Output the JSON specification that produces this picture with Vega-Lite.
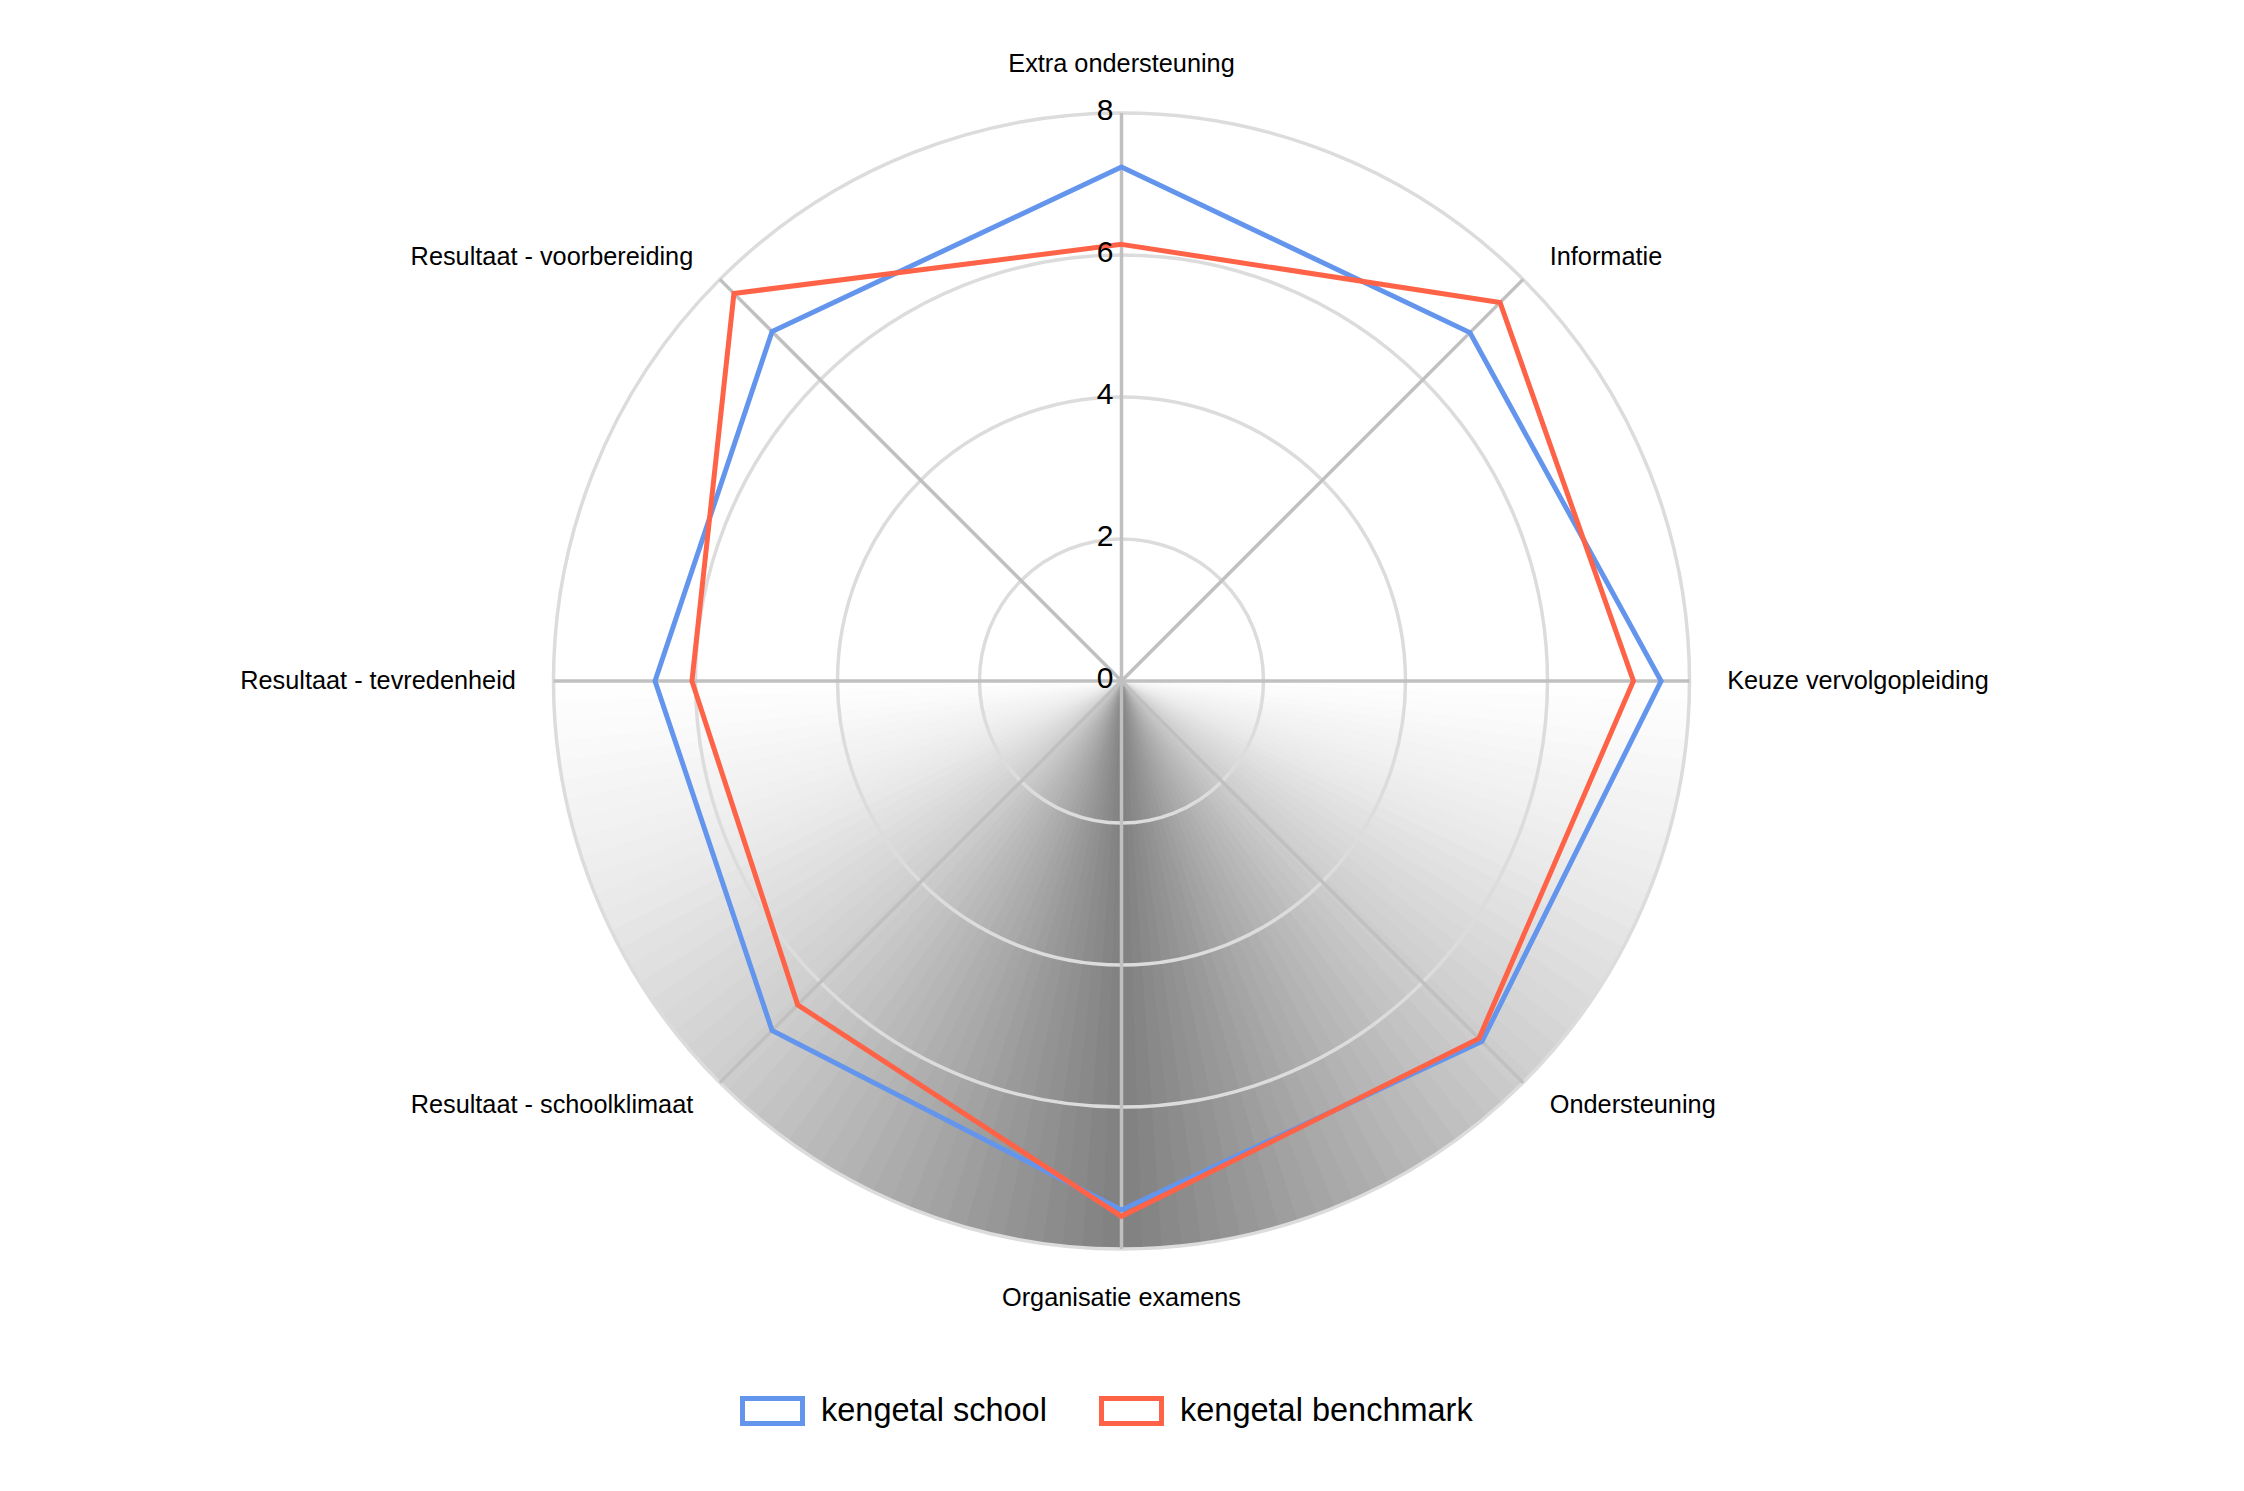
{
  "$schema": "https://vega.github.io/schema/vega-lite/v6.json",
  "width": 1136,
  "height": 1136,
  "autosize": {"type": "none"},
  "padding": {"left": 553.5, "top": 113, "right": 554.5, "bottom": 242},
  "background": "white",
  "config": {
    "view": {"stroke": null},
    "font": "Liberation Sans",
    "text": {"font": "Liberation Sans", "color": "black"}
  },
  "datasets": {
    "scores": [
      {"aspect": "Extra ondersteuning", "series": "kengetal school", "value": 7.24},
      {"aspect": "Informatie", "series": "kengetal school", "value": 6.94},
      {"aspect": "Keuze vervolgopleiding", "series": "kengetal school", "value": 7.6},
      {"aspect": "Ondersteuning", "series": "kengetal school", "value": 7.18},
      {"aspect": "Organisatie examens", "series": "kengetal school", "value": 7.45},
      {"aspect": "Resultaat - schoolklimaat", "series": "kengetal school", "value": 6.96},
      {"aspect": "Resultaat - tevredenheid", "series": "kengetal school", "value": 6.57},
      {"aspect": "Resultaat - voorbereiding", "series": "kengetal school", "value": 6.96},
      {"aspect": "Extra ondersteuning", "series": "kengetal benchmark", "value": 6.15},
      {"aspect": "Informatie", "series": "kengetal benchmark", "value": 7.54},
      {"aspect": "Keuze vervolgopleiding", "series": "kengetal benchmark", "value": 7.21},
      {"aspect": "Ondersteuning", "series": "kengetal benchmark", "value": 7.12},
      {"aspect": "Organisatie examens", "series": "kengetal benchmark", "value": 7.54},
      {"aspect": "Resultaat - schoolklimaat", "series": "kengetal benchmark", "value": 6.45},
      {"aspect": "Resultaat - tevredenheid", "series": "kengetal benchmark", "value": 6.05},
      {"aspect": "Resultaat - voorbereiding", "series": "kengetal benchmark", "value": 7.72}
    ],
    "aspects": [
      {"aspect": "Extra ondersteuning"},
      {"aspect": "Informatie"},
      {"aspect": "Keuze vervolgopleiding"},
      {"aspect": "Ondersteuning"},
      {"aspect": "Organisatie examens"},
      {"aspect": "Resultaat - schoolklimaat"},
      {"aspect": "Resultaat - tevredenheid"},
      {"aspect": "Resultaat - voorbereiding"}
    ],
    "rings": [{"tick": 0}, {"tick": 2}, {"tick": 4}, {"tick": 6}, {"tick": 8}],
    "shade": [
      {"wedge": 1}, {"wedge": 2}, {"wedge": 3}, {"wedge": 4}, {"wedge": 5}, {"wedge": 6}, {"wedge": 7}, {"wedge": 8}, {"wedge": 9}, {"wedge": 10},
      {"wedge": 11}, {"wedge": 12}, {"wedge": 13}, {"wedge": 14}, {"wedge": 15}, {"wedge": 16}, {"wedge": 17}, {"wedge": 18}, {"wedge": 19}, {"wedge": 20},
      {"wedge": 21}, {"wedge": 22}, {"wedge": 23}, {"wedge": 24}, {"wedge": 25}, {"wedge": 26}, {"wedge": 27}, {"wedge": 28}, {"wedge": 29}, {"wedge": 30},
      {"wedge": 31}, {"wedge": 32}, {"wedge": 33}, {"wedge": 34}, {"wedge": 35}, {"wedge": 36}, {"wedge": 37}, {"wedge": 38}, {"wedge": 39}, {"wedge": 40},
      {"wedge": 41}, {"wedge": 42}, {"wedge": 43}, {"wedge": 44}, {"wedge": 45}, {"wedge": 46}, {"wedge": 47}, {"wedge": 48}, {"wedge": 49}, {"wedge": 50},
      {"wedge": 51}, {"wedge": 52}, {"wedge": 53}, {"wedge": 54}, {"wedge": 55}, {"wedge": 56}, {"wedge": 57}, {"wedge": 58}, {"wedge": 59}, {"wedge": 60},
      {"wedge": 61}, {"wedge": 62}, {"wedge": 63}, {"wedge": 64}, {"wedge": 65}, {"wedge": 66}, {"wedge": 67}, {"wedge": 68}, {"wedge": 69}, {"wedge": 70},
      {"wedge": 71}, {"wedge": 72}, {"wedge": 73}, {"wedge": 74}, {"wedge": 75}, {"wedge": 76}, {"wedge": 77}, {"wedge": 78}, {"wedge": 79}, {"wedge": 80},
      {"wedge": 81}, {"wedge": 82}, {"wedge": 83}, {"wedge": 84}, {"wedge": 85}, {"wedge": 86}, {"wedge": 87}, {"wedge": 88}, {"wedge": 89}, {"wedge": 90}
    ]
  },
  "layer": [
    {
      "data": {"name": "shade"},
      "mark": {"type": "arc", "strokeWidth": 1.2},
      "encoding": {
        "theta": {"aggregate": "count", "type": "quantitative", "scale": {"range": [1.5708, 4.7124]}},
        "fill": {"field": "wedge", "type": "quantitative", "legend": null,
          "scale": {"type": "linear", "domain": [0.5, 11.75, 23, 34.25, 45.5, 56.75, 68, 79.25, 90.5],
            "range": ["#ffffff", "#ebebeb", "#cdcdcd", "#a8a8a8", "#808080", "#a8a8a8", "#cdcdcd", "#ebebeb", "#ffffff"]}},
        "stroke": {"field": "wedge", "type": "quantitative", "legend": null,
          "scale": {"type": "linear", "domain": [0.5, 11.75, 23, 34.25, 45.5, 56.75, 68, 79.25, 90.5],
            "range": ["#ffffff", "#ebebeb", "#cdcdcd", "#a8a8a8", "#808080", "#a8a8a8", "#cdcdcd", "#ebebeb", "#ffffff"]}}
      }
    },
    {
      "data": {"name": "rings"},
      "transform": [{"filter": "datum.tick > 0"}],
      "mark": {"type": "point", "shape": "circle", "filled": false, "color": "#dcdcdc", "strokeWidth": 3.5, "opacity": 1},
      "encoding": {
        "x": {"datum": 0, "type": "quantitative", "scale": {"domain": [-8, 8], "nice": false, "zero": false}, "axis": null},
        "y": {"datum": 0, "type": "quantitative", "scale": {"domain": [-8, 8], "nice": false, "zero": false}, "axis": null},
        "size": {"field": "tick", "type": "quantitative", "legend": null,
          "scale": {"type": "pow", "exponent": 2, "domain": [0, 8], "range": [0, 1290496], "zero": true, "nice": false}}
      }
    },
    {
      "data": {"name": "aspects"},
      "transform": [
        {"calculate": "indexof(['Extra ondersteuning','Informatie','Keuze vervolgopleiding','Ondersteuning','Organisatie examens','Resultaat - schoolklimaat','Resultaat - tevredenheid','Resultaat - voorbereiding'], datum.aspect) * PI / 4", "as": "ang"},
        {"calculate": "8 * sin(datum.ang)", "as": "sx"},
        {"calculate": "8 * cos(datum.ang)", "as": "sy"}
      ],
      "mark": {"type": "rule", "color": "#c0c0c0", "strokeWidth": 3.5},
      "encoding": {
        "x": {"field": "sx", "type": "quantitative", "scale": {"domain": [-8, 8], "nice": false, "zero": false}, "axis": null},
        "y": {"field": "sy", "type": "quantitative", "scale": {"domain": [-8, 8], "nice": false, "zero": false}, "axis": null},
        "x2": {"datum": 0},
        "y2": {"datum": 0}
      }
    },
    {
      "data": {"name": "scores"},
      "transform": [
        {"calculate": "indexof(['Extra ondersteuning','Informatie','Keuze vervolgopleiding','Ondersteuning','Organisatie examens','Resultaat - schoolklimaat','Resultaat - tevredenheid','Resultaat - voorbereiding'], datum.aspect)", "as": "idx"},
        {"calculate": "datum.value * sin(datum.idx * PI / 4)", "as": "px"},
        {"calculate": "datum.value * cos(datum.idx * PI / 4)", "as": "py"}
      ],
      "mark": {"type": "line", "interpolate": "linear-closed", "strokeWidth": 5, "strokeJoin": "miter"},
      "encoding": {
        "x": {"field": "px", "type": "quantitative", "scale": {"domain": [-8, 8], "nice": false, "zero": false}, "axis": null},
        "y": {"field": "py", "type": "quantitative", "scale": {"domain": [-8, 8], "nice": false, "zero": false}, "axis": null},
        "order": {"field": "idx", "type": "quantitative"},
        "color": {
          "field": "series", "type": "nominal",
          "scale": {"domain": ["kengetal school", "kengetal benchmark"], "range": ["#6495ED", "#FF6347"]},
          "legend": {
            "title": null,
            "orient": "none",
            "direction": "horizontal",
            "legendX": 186.5,
            "legendY": 1265,
            "padding": 0,
            "symbolType": "M-1,-0.4167H1V0.4167H-1Z",
            "symbolSize": 3600,
            "symbolStrokeWidth": 5,
            "symbolFillColor": "white",
            "labelFont": "Liberation Sans",
            "labelFontSize": 32.5,
            "labelColor": "black",
            "labelLimit": 0,
            "labelOffset": 16,
            "columnPadding": 44
          }
        }
      }
    },
    {
      "data": {"name": "rings"},
      "mark": {"type": "text", "align": "right", "baseline": "middle", "dx": -8, "dy": -2, "fontSize": 30, "color": "black"},
      "encoding": {
        "x": {"datum": 0, "type": "quantitative", "scale": {"domain": [-8, 8], "nice": false, "zero": false}, "axis": null},
        "y": {"field": "tick", "type": "quantitative", "scale": {"domain": [-8, 8], "nice": false, "zero": false}, "axis": null},
        "text": {"field": "tick", "type": "quantitative"}
      }
    },
    {
      "data": {"name": "aspects"},
      "transform": [
        {"calculate": "indexof(['Extra ondersteuning','Informatie','Keuze vervolgopleiding','Ondersteuning','Organisatie examens','Resultaat - schoolklimaat','Resultaat - tevredenheid','Resultaat - voorbereiding'], datum.aspect)", "as": "idx"},
        {"calculate": "8.53 * sin(datum.idx * PI / 4)", "as": "lx"},
        {"calculate": "cos(datum.idx * PI / 4) * (abs(cos(datum.idx * PI / 4)) > 0.9 ? 8.69 : 8.45)", "as": "ly"},
        {"calculate": "abs(datum.lx) < 0.01 ? 'center' : (datum.lx > 0 ? 'left' : 'right')", "as": "side"},
        {"filter": "datum.side == 'center'"}
      ],
      "mark": {"type": "text", "align": "center", "baseline": "middle", "fontSize": 25.3, "color": "black"},
      "encoding": {
        "x": {"field": "lx", "type": "quantitative", "scale": {"domain": [-8, 8], "nice": false, "zero": false}, "axis": null},
        "y": {"field": "ly", "type": "quantitative", "scale": {"domain": [-8, 8], "nice": false, "zero": false}, "axis": null},
        "text": {"field": "aspect", "type": "nominal"}
      }
    },
    {
      "data": {"name": "aspects"},
      "transform": [
        {"calculate": "indexof(['Extra ondersteuning','Informatie','Keuze vervolgopleiding','Ondersteuning','Organisatie examens','Resultaat - schoolklimaat','Resultaat - tevredenheid','Resultaat - voorbereiding'], datum.aspect)", "as": "idx"},
        {"calculate": "8.53 * sin(datum.idx * PI / 4)", "as": "lx"},
        {"calculate": "cos(datum.idx * PI / 4) * (abs(cos(datum.idx * PI / 4)) > 0.9 ? 8.69 : 8.45)", "as": "ly"},
        {"calculate": "abs(datum.lx) < 0.01 ? 'center' : (datum.lx > 0 ? 'left' : 'right')", "as": "side"},
        {"filter": "datum.side == 'left'"}
      ],
      "mark": {"type": "text", "align": "left", "baseline": "middle", "fontSize": 25.3, "color": "black"},
      "encoding": {
        "x": {"field": "lx", "type": "quantitative", "scale": {"domain": [-8, 8], "nice": false, "zero": false}, "axis": null},
        "y": {"field": "ly", "type": "quantitative", "scale": {"domain": [-8, 8], "nice": false, "zero": false}, "axis": null},
        "text": {"field": "aspect", "type": "nominal"}
      }
    },
    {
      "data": {"name": "aspects"},
      "transform": [
        {"calculate": "indexof(['Extra ondersteuning','Informatie','Keuze vervolgopleiding','Ondersteuning','Organisatie examens','Resultaat - schoolklimaat','Resultaat - tevredenheid','Resultaat - voorbereiding'], datum.aspect)", "as": "idx"},
        {"calculate": "8.53 * sin(datum.idx * PI / 4)", "as": "lx"},
        {"calculate": "cos(datum.idx * PI / 4) * (abs(cos(datum.idx * PI / 4)) > 0.9 ? 8.69 : 8.45)", "as": "ly"},
        {"calculate": "abs(datum.lx) < 0.01 ? 'center' : (datum.lx > 0 ? 'left' : 'right')", "as": "side"},
        {"filter": "datum.side == 'right'"}
      ],
      "mark": {"type": "text", "align": "right", "baseline": "middle", "fontSize": 25.3, "color": "black"},
      "encoding": {
        "x": {"field": "lx", "type": "quantitative", "scale": {"domain": [-8, 8], "nice": false, "zero": false}, "axis": null},
        "y": {"field": "ly", "type": "quantitative", "scale": {"domain": [-8, 8], "nice": false, "zero": false}, "axis": null},
        "text": {"field": "aspect", "type": "nominal"}
      }
    }
  ]
}
